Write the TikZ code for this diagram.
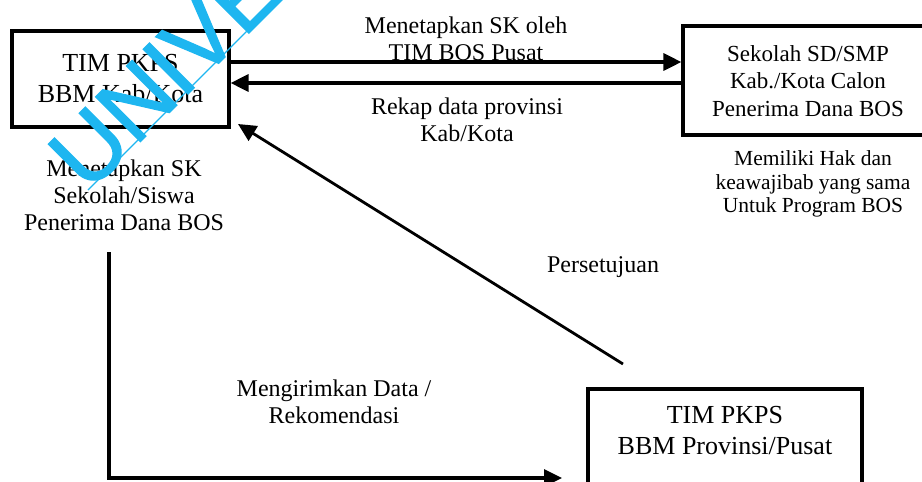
\documentclass[tikz,border=0pt]{standalone}
\usepackage{fontspec}
\setmainfont{Liberation Serif}
\newfontfamily\wmfont[FakeBold=1.5]{Liberation Sans}
\usetikzlibrary{arrows.meta}
\definecolor{wmcyan}{RGB}{30,182,240}
\begin{document}
\begin{tikzpicture}[x=1pt,y=-1pt,
  boxframe/.style={draw, line width=3.2pt, rectangle, inner sep=0pt},
  conn/.style={line width=3.2pt, -{Triangle[length=18pt,width=17pt]}},
  boxtext/.style={font=\fontsize{26}{31}\selectfont, align=center, inner sep=0pt},
  boxtextsm/.style={font=\fontsize{23}{27.5}\selectfont, align=center, inner sep=0pt},
  lbl/.style={font=\fontsize{24}{27}\selectfont, align=center, inner sep=0pt},
  lblsm/.style={font=\fontsize{21.5}{23.5}\selectfont, align=center, inner sep=0pt},
  wm/.style={text=wmcyan, font=\wmfont\fontsize{92}{92}\selectfont, inner sep=0pt}]
\useasboundingbox (0,0) rectangle (922,482);
\clip (0,0) rectangle (922,482);

% boxes
\node[boxframe, minimum width=217pt, minimum height=96pt, boxtext] (box1) at (120.5,79) {TIM PKPS\\BBM Kab/Kota};
\node[boxframe, minimum width=250pt, minimum height=109pt] (box2) at (808,80.5) {};
\node[boxtextsm] (box2t) at (808,81) {Sekolah SD/SMP\\Kab./Kota Calon\\Penerima Dana BOS};
\node[boxframe, minimum width=274pt, minimum height=150pt] (box3) at (725,464) {};
\node[boxtext] (box3t) at (725,431) {TIM PKPS\\BBM Provinsi/Pusat};

% labels
\node[lbl] (l1) at (466,39) {Menetapkan SK oleh\\TIM BOS Pusat};
\node[lbl] (l2) at (467,120) {Rekap data provinsi\\Kab/Kota};
\node[lbl] (l3) at (124,195) {Menetapkan SK\\Sekolah/Siswa\\Penerima Dana BOS};
\node[lblsm] (l4) at (813,184) {Memiliki Hak dan\\keawajibab yang sama\\Untuk Program BOS};
\node[lbl] (l5) at (603,267) {Persetujuan};
\node[lbl] (l6) at (334,402) {Mengirimkan Data /\\Rekomendasi};

% connectors
\draw[conn] (box1.east |- 0,62) -- (box2.west |- 0,62);
\draw[conn] (box2.west |- 0,83) -- (box1.east |- 0,83);
\coordinate (d1) at (623,364);
\coordinate (d2) at (238,124);
\draw[conn, line width=2.8pt] (d1) -- (d2);
\coordinate (m1) at (109,252);
\coordinate (m2) at (562,478);
\draw[conn] (m1) -- (m1 |- m2) -- (m2);

% watermark
\node[wm, rotate=45, anchor=base west] (wmtext) at (88,194) {UNIVE};
\coordinate (wa) at (88,190);
\coordinate (wb) at (292,-14);
\draw[wmcyan, line width=1.4pt] (wa) -- (wb);
\end{tikzpicture}
\end{document}
